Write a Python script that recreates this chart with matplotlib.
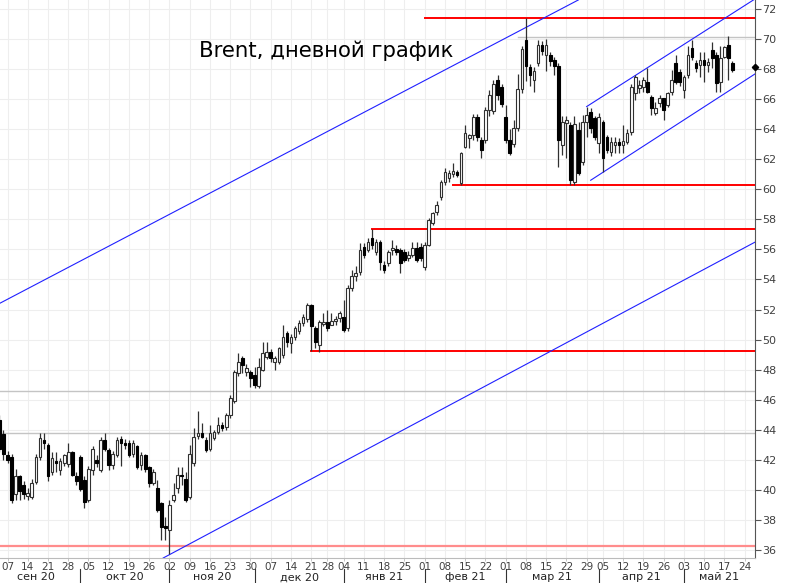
import numpy as np
import pandas as pd
import matplotlib
matplotlib.use("Agg")
import matplotlib.pyplot as plt

# trading calendar of the chart (exchange holidays removed)
first_day = "2020-09-01"
last_candle = "2021-05-19"
axis_end = "2021-05-31"
holidays = ["2020-12-25", "2021-01-01", "2021-04-02"]

# daily candles, Sep 1 2020 .. May 19 2021 (one line per month)
opens = [
    45.4, 45.6, 44.65, 43.7, 42.3, 42.2, 39.7, 40.9, 40.3, 39.6, 39.55, 40.55, 42.2, 43.3, 43.0, 41.2, 41.9, 41.3, 41.8, 41.7, 42.5, 40.9,
    42.2, 40.65, 39.3, 41.3, 42.0, 41.3, 43.35, 42.65, 41.65, 42.3, 43.4, 43.1, 43.1, 42.4, 42.9, 41.65, 42.3, 41.55, 40.45, 40.1, 39.1, 37.6,
    37.35, 39.35, 40.1, 41.0, 40.7, 39.55, 41.8, 43.6, 43.76, 43.3, 42.7, 43.45, 43.87, 44.32, 44.2, 44.98, 45.9, 47.75, 48.75, 47.87, 47.87,
    47.64, 46.9, 48.0, 48.86, 49.2, 48.53, 48.53, 48.97, 50.42, 49.75, 50.19, 50.6, 51.08, 51.4, 52.3, 50.75, 49.64, 51.05, 51.19, 51.0, 51.25, 51.42,
    51.53, 50.75, 53.4, 54.2, 54.5, 56.18, 55.96, 56.74, 55.85, 56.52, 54.97, 55.08, 55.96, 56.0, 55.96, 55.85, 55.45, 55.63, 56.07, 56.18,
    54.85, 56.3, 57.74, 58.51, 59.5, 60.5, 60.72, 61.0, 61.17, 60.4, 62.83, 63.39, 63.6, 64.8, 63.28, 63.28, 65.3, 65.2, 67.27, 66.8,
    64.8, 63.3, 63.0, 64.05, 66.65, 69.9, 68.1, 67.3, 68.4, 69.6, 68.9, 68.95, 68.6, 68.2, 62.95, 64.4, 64.3, 60.5, 63.95, 61.8, 64.49, 65.16, 64.72,
    63.06, 64.49, 63.5, 62.5, 62.94, 63.17, 62.94, 63.17, 63.83, 66.38, 66.71, 66.82, 67.16, 66.16, 65.05, 65.72, 66.05, 65.6, 66.49, 68.38, 67.82,
    66.6, 67.6, 69.37, 68.38, 68.26, 68.6, 68.26, 69.27, 68.93, 67.16, 68.82, 69.6, 68.38,
]
highs = [
    46.0, 45.8, 45.0, 44.0, 42.6, 42.4, 41.4, 41.0, 40.6, 40.1, 40.7, 42.4, 43.76, 43.8, 43.1, 42.5, 42.5, 42.1, 42.4, 43.1, 42.6, 41.2,
    42.3, 40.9, 41.6, 42.9, 42.3, 43.5, 43.8, 42.8, 42.6, 43.5, 43.6, 43.4, 43.3, 43.3, 43.0, 42.5, 42.4, 41.6, 41.4, 40.65, 39.2, 38.2,
    39.35, 40.45, 41.55, 41.55, 41.2, 43.0, 44.1, 45.25, 44.43, 43.5, 44.32, 44.0, 44.87, 44.5, 45.1, 46.3, 48.0, 49.1, 48.9, 48.4, 48.0,
    48.2, 48.75, 49.86, 49.86, 49.4, 48.9, 49.53, 50.97, 50.6, 50.4, 50.9, 51.3, 51.7, 52.46, 52.4, 50.9, 51.3, 51.75, 51.97, 51.75, 51.6, 51.9,
    52.64, 53.6, 54.63, 54.9, 56.4, 56.4, 56.74, 57.36, 56.7, 56.6, 55.2, 55.96, 56.63, 56.3, 56.1, 56.0, 55.9, 56.52, 56.52, 56.4,
    56.52, 58.1, 58.51, 59.2, 60.6, 61.39, 61.3, 61.72, 61.28, 62.5, 64.27, 63.7, 65.0, 65.0, 63.5, 65.49, 66.6, 67.3, 67.6, 67.0,
    65.6, 64.0, 64.6, 67.7, 69.5, 71.4, 68.3, 68.1, 69.9, 69.85, 70.0, 69.1, 68.8, 68.4, 64.9, 64.9, 64.5, 64.9, 64.5, 64.95, 65.5, 65.38, 64.9,
    65.05, 64.6, 63.6, 63.5, 63.5, 63.4, 64.27, 64.0, 67.0, 67.6, 67.27, 67.5, 68.04, 66.3, 65.83, 66.27, 66.1, 66.5, 67.93, 68.93, 68.0,
    67.6, 69.5, 69.93, 68.6, 69.15, 69.15, 68.7, 69.82, 69.1, 69.5, 69.5, 70.2, 68.5,
]
lows = [
    45.1, 44.3, 42.5, 42.0, 41.8, 39.1, 39.3, 39.3, 39.4, 39.3, 39.4, 40.4, 42.0, 42.7, 40.6, 41.0, 41.2, 41.0, 41.6, 41.5, 40.9, 40.3,
    39.9, 38.8, 39.2, 41.0, 41.5, 41.2, 42.6, 41.3, 41.4, 42.2, 41.6, 42.7, 42.2, 42.2, 41.4, 41.3, 41.2, 40.2, 40.3, 38.5, 36.65, 36.7,
    35.75, 39.2, 39.8, 40.3, 39.2, 39.4, 41.6, 43.4, 43.43, 42.55, 42.6, 43.3, 43.7, 43.9, 44.0, 44.8, 45.8, 47.6, 47.75, 47.6, 46.87,
    46.8, 46.8, 47.9, 48.7, 48.5, 47.98, 48.4, 48.8, 49.53, 49.09, 50.0, 50.4, 50.9, 51.2, 49.25, 49.42, 49.2, 50.9, 50.6, 50.97, 51.0, 51.2,
    50.53, 50.6, 53.2, 53.9, 54.3, 55.41, 55.8, 56.0, 55.6, 54.63, 54.41, 54.9, 55.63, 55.6, 54.41, 55.19, 55.2, 55.5, 55.19, 55.2,
    54.63, 56.2, 57.6, 58.3, 59.3, 60.3, 60.5, 60.84, 60.84, 60.28, 62.72, 62.72, 63.3, 63.2, 62.06, 63.1, 64.9, 65.0, 65.94, 65.5,
    63.1, 62.3, 62.8, 63.9, 66.4, 67.2, 66.9, 66.5, 68.2, 68.9, 67.9, 68.2, 67.6, 61.45, 62.3, 62.1, 60.28, 60.3, 60.95, 61.6, 63.5, 63.72, 63.3,
    62.39, 61.17, 62.39, 62.2, 62.39, 62.39, 62.39, 63.0, 63.6, 65.94, 66.38, 66.5, 66.4, 64.94, 64.94, 65.5, 64.6, 65.5, 66.3, 67.0, 66.9,
    66.05, 67.4, 68.6, 67.82, 67.49, 67.16, 67.82, 68.05, 66.49, 66.49, 68.7, 67.27, 67.8,
]
closes = [
    45.6, 44.6, 42.7, 42.4, 42.0, 39.35, 40.9, 39.9, 39.7, 39.8, 40.45, 42.2, 43.45, 43.1, 40.9, 42.1, 41.8, 41.95, 42.3, 42.5, 41.0, 40.6,
    40.05, 39.2, 41.4, 42.75, 41.8, 43.35, 42.75, 41.65, 42.4, 43.3, 43.1, 43.0, 42.3, 43.1, 41.55, 42.3, 41.4, 40.45, 41.2, 38.65, 37.5, 37.45,
    39.0, 39.65, 41.0, 40.9, 39.35, 42.4, 43.55, 43.8, 43.54, 42.65, 43.76, 43.87, 44.32, 44.1, 44.98, 46.09, 47.87, 48.53, 48.31, 48.13, 47.42,
    46.98, 48.2, 49.09, 49.2, 48.75, 48.75, 49.42, 50.19, 49.86, 50.19, 50.75, 51.1, 51.53, 52.3, 50.9, 49.86, 51.19, 51.2, 50.75, 51.25, 51.4, 51.75,
    50.64, 53.4, 54.2, 54.4, 55.96, 55.63, 56.52, 56.3, 56.52, 55.19, 54.6, 55.85, 56.07, 55.8, 55.08, 55.3, 55.65, 56.07, 55.3, 55.41,
    56.3, 57.96, 58.4, 58.96, 60.5, 61.17, 61.06, 61.2, 60.95, 62.39, 63.72, 63.61, 64.8, 63.5, 62.61, 65.27, 66.3, 67.0, 66.27, 65.7,
    63.3, 62.4, 64.05, 66.65, 69.3, 68.2, 67.6, 67.9, 69.6, 69.2, 69.6, 68.5, 68.2, 63.3, 64.5, 64.6, 60.6, 64.35, 61.1, 64.5, 64.94, 64.05, 63.5,
    64.83, 62.06, 62.61, 63.17, 63.17, 62.94, 63.23, 63.72, 66.82, 67.49, 66.93, 67.27, 66.49, 65.38, 65.38, 66.05, 65.27, 66.38, 67.27, 67.16, 67.16,
    67.49, 68.93, 68.82, 68.05, 68.6, 68.26, 68.49, 68.71, 67.04, 68.71, 69.49, 68.71, 67.93,
]

# drawn levels: (start date or None for full width, price)
red_levels = [("2021-02-01", 71.4), ("2021-02-10", 60.3), ("2021-01-13", 57.36), ("2020-12-21", 49.25)]
grey_levels = [("2021-03-04", 70.1), (None, 46.6), (None, 43.8)]
pink_level = 36.27
# long trend channel: infinite lines through two points
long_channel = [(("2020-09-03", 52.4), ("2021-03-25", 72.6)),
                (("2020-10-30", 35.55), ("2021-05-14", 55.25))]
# short channel: rays from the first point through the second
short_channel = [(("2021-03-29", 65.5), ("2021-05-19", 71.7)),
                 (("2021-03-30", 60.6), ("2021-05-19", 66.7))]
last_price = 68.1
title = "Brent, дневной график"
month_names = ["янв", "фев", "мар", "апр", "май", "июн", "июл", "авг", "сен", "окт", "ноя", "дек"]

# ---------------------------------------------------------------
days = pd.bdate_range(first_day, axis_end)
days = days[~days.isin(pd.to_datetime(holidays))]
pos = {d: i for i, d in enumerate(days)}
n = len(opens)
assert days[n - 1] == pd.Timestamp(last_candle)


def ix(d):
    return pos[pd.Timestamp(d)]


o = np.array(opens)
h = np.array(highs)
l = np.array(lows)
c = np.array(closes)
x = np.arange(n)

W, H = 785, 583
fig = plt.figure(figsize=(W / 100, H / 100), dpi=100)
ax = fig.add_axes([0, 25 / H, 755 / W, 558 / H])
x0, x1 = 2.148, 188.57
y0, y1 = 35.47, 72.59

# grid
weeks = [i for i in range(len(days))
         if (i == 0 or days[i].weekday() < days[i - 1].weekday()) and x0 < i < x1]
for yv in range(36, 73, 2):
    ax.axhline(yv, color="#eeeeee", lw=0.8, zorder=0)
for i in weeks:
    ax.axvline(i, color="#eeeeee", lw=0.8, zorder=0)

# levels
ax.axhline(pink_level, color="#ff8c8c", lw=1.6, zorder=1)
for d, p in grey_levels:
    start = x0 if d is None else ix(d)
    ax.plot([start, x1], [p, p], color="#c4c4c4", lw=1.0, zorder=1)
for d, p in red_levels:
    ax.plot([ix(d), x1], [p, p], color="#ff0000", lw=1.4, zorder=2)

for (d1, p1), (d2, p2) in long_channel:
    ax.axline((ix(d1), p1), (ix(d2), p2), color="#2020ff", lw=0.8, zorder=2)
for (d1, p1), (d2, p2) in short_channel:
    k = (p2 - p1) / (ix(d2) - ix(d1))
    ax.plot([ix(d1), x1 + 5], [p1, p1 + k * (x1 + 5 - ix(d1))], color="#2020ff", lw=0.8, zorder=2)

# candles
up = c >= o
bot = np.minimum(o, c)
hgt = np.maximum(np.abs(c - o), 0.07)
ax.vlines(x, l, h, color="#303030", lw=0.9, zorder=3)
ax.bar(x[up], hgt[up], bottom=bot[up], width=0.66, color="white", edgecolor="#303030", lw=0.8, zorder=4)
ax.bar(x[~up], hgt[~up], bottom=bot[~up], width=0.66, color="black", edgecolor="black", lw=0.8, zorder=4)

# axes look
for s in ("left", "top"):
    ax.spines[s].set_visible(False)
ax.spines["right"].set_color("#555555")
ax.spines["bottom"].set_color("#bbbbbb")
ax.yaxis.tick_right()
ax.set_yticks(range(36, 73, 2))
ax.tick_params(axis="y", length=4, width=0.8, color="#555555", labelsize=8, labelcolor="#404040", pad=1)
ax.set_xticks(weeks)
ax.set_xticklabels([days[i].strftime("%d") for i in weeks])
ax.tick_params(axis="x", length=2, width=0.6, color="#bbbbbb", labelsize=7.5, labelcolor="#404040", pad=1)
ax.set_xlim(x0, x1)
ax.set_ylim(y0, y1)
ax.plot([x1], [last_price], marker="D", ms=3.2, color="black", clip_on=False, zorder=6)

# month labels and separators under the axis
starts = [i for i in range(len(days)) if i == 0 or days[i].month != days[i - 1].month]
for k, i in enumerate(starts):
    end = starts[k + 1] if k + 1 < len(starts) else x1
    end = min(end, x1)
    if k > 0:
        ax.plot([i, i], [-0.02, -0.046], transform=ax.get_xaxis_transform(), color="#333333",
                lw=0.8, clip_on=False)
    d = days[i]
    ax.text((i + end) / 2, -0.0345, f"{month_names[d.month - 1]} {d.strftime('%y')}",
            transform=ax.get_xaxis_transform(), ha="center", va="center", fontsize=8, color="#222222")

fig.text(199 / W, 1 - 57 / H, title, fontsize=15.3, color="black", ha="left", va="baseline")

fig.savefig("out.png", dpi=100)
